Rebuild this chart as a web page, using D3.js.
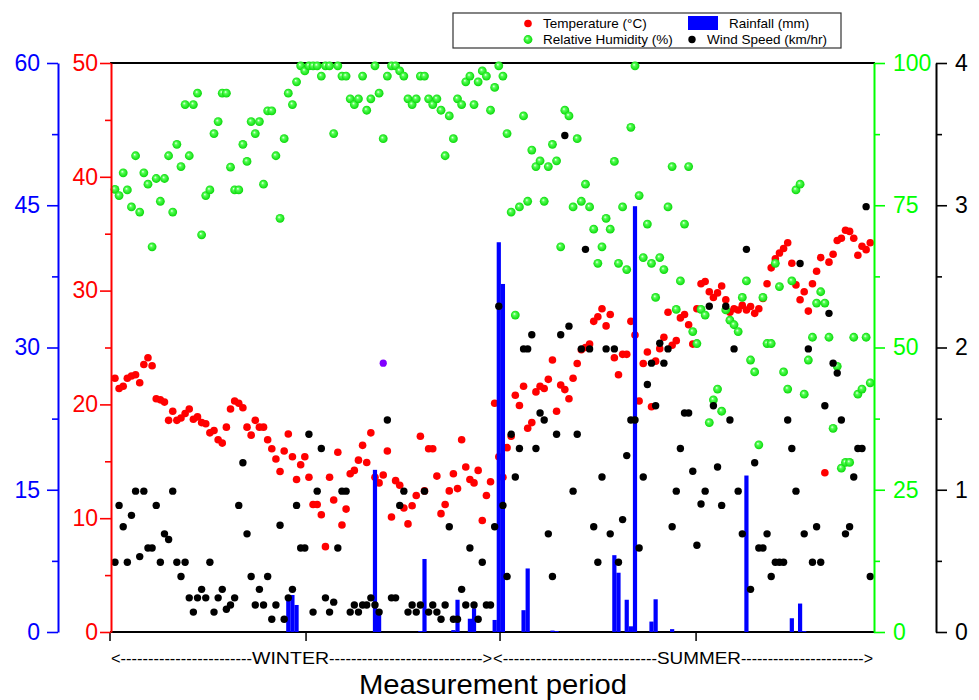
<!DOCTYPE html>
<html><head><meta charset="utf-8">
<script src="https://cdn.jsdelivr.net/npm/d3@7"></script>
<style>body{margin:0;background:#fff;} svg text{font-family:"Liberation Sans",Arial,sans-serif;}</style>
</head><body><svg id="c" width="979" height="700"></svg>
<script>
// ---- data (sample index 1..184) ----
const temperature = [22.3,21.4,21.6,22.3,22.5,22.6,21.9,23.5,24.1,23.4,
 20.5,20.4,20.2,18.6,19.4,18.6,18.8,19.2,19.6,18.7,
 18.9,18.4,18.3,17.5,17.7,16.9,16.6,18.0,19.6,20.3,
 20.1,19.7,18.0,17.3,18.6,18.0,18.0,16.9,16.1,15.2,
 14.1,15.9,17.4,15.4,13.4,14.7,15.4,13.6,11.2,11.2,
 10.3,7.5,13.6,11.6,15.8,9.4,10.8,13.9,14.2,15.1,
 16.4,14.9,17.5,13.6,13.1,13.8,15.9,10.1,13.3,12.9,
 10.9,9.5,11.1,12.0,17.2,12.4,16.1,16.1,13.7,10.4,
 11.2,12.4,13.9,12.6,16.9,14.5,13.4,13.1,14.2,9.8,
 12.0,13.2,20.1,15.4,13.6,16.2,17.2,20.8,19.9,21.6,
 17.9,18.4,21.1,21.6,21.4,22.2,23.9,19.4,21.7,21.3,
 20.5,22.3,23.6,24.8,25.0,25.3,27.3,27.7,28.4,26.9,
 27.9,24.1,22.6,24.4,24.4,27.3,26.1,20.3,23.6,24.6,
 19.8,23.8,24.9,25.9,28.1,25.2,25.6,27.6,27.9,27.0,
 25.3,28.4,30.6,30.8,29.9,29.4,29.8,30.4,29.2,28.1,
 28.4,28.3,28.7,28.3,28.6,28.0,28.4,29.3,30.6,32.0,
 32.8,33.3,33.7,34.2,32.4,30.5,29.2,29.9,28.2,30.6,
 31.7,32.9,14.0,32.5,33.2,34.4,34.6,35.3,35.2,34.6,
 33.1,33.9,33.6,34.2];
const humidity = [77.8,76.7,80.7,77.7,74.7,83.7,73.8,80.7,78.7,67.7,
 79.7,75.7,79.7,83.7,73.8,85.7,81.8,92.7,83.7,92.7,
 94.7,69.8,76.7,77.7,87.6,89.7,94.7,94.7,81.7,77.7,
 77.7,85.7,82.7,89.7,87.6,89.7,78.7,91.6,91.6,83.7,
 72.7,86.7,94.7,92.7,96.7,99.5,98.6,99.5,99.5,99.5,
 97.7,99.5,99.5,87.6,99.5,97.7,97.7,93.7,92.7,93.7,
 97.7,91.7,93.7,99.5,94.7,86.7,97.7,99.5,99.5,98.6,
 97.7,93.7,92.7,93.7,97.7,97.7,93.7,92.7,93.7,91.7,
 83.7,90.7,86.7,93.7,92.7,96.7,97.7,92.7,96.7,98.6,
 97.7,91.7,95.7,99.5,97.7,87.6,73.8,55.7,74.7,90.7,
 75.7,84.7,81.8,82.8,75.7,81.8,85.7,82.8,67.7,91.7,
 90.7,74.7,86.7,75.7,78.7,74.7,70.8,64.8,67.7,72.7,
 70.8,82.7,64.8,74.7,63.7,88.7,99.5,76.7,65.8,71.7,
 64.8,58.8,65.8,63.7,74.7,81.8,56.7,61.7,71.7,81.8,
 52.8,50.7,56.7,55.7,36.8,40.8,42.7,38.8,56.6,54.8,
 54.0,52.8,58.8,61.7,47.8,45.7,32.9,58.8,50.7,50.7,
 64.8,60.7,45.7,42.7,61.7,77.7,78.7,41.8,47.8,51.8,
 57.8,59.8,57.8,51.8,35.8,46.7,28.8,29.8,29.8,51.8,
 41.8,42.7,51.8,43.8];
const windSpeed = [0.49,0.89,0.74,0.49,0.82,0.99,0.53,0.99,0.59,0.59,
 0.89,0.49,0.69,0.65,0.99,0.49,0.39,0.49,0.24,0.14,
 0.24,0.30,0.24,0.49,0.14,0.24,0.30,0.16,0.19,0.24,
 0.89,1.19,0.69,0.39,0.19,0.30,0.19,0.39,0.09,0.19,
 0.75,0.09,0.24,0.30,0.89,0.59,0.59,1.39,0.14,0.99,
 1.29,0.24,0.14,0.21,0.59,0.99,0.99,0.14,0.19,0.14,
 0.19,0.19,0.24,0.19,0.14,null,1.49,0.24,0.24,0.89,
 0.99,0.14,0.19,0.14,0.19,0.99,0.14,0.19,0.14,0.09,
 0.19,0.74,0.09,0.09,0.30,0.19,0.59,0.19,0.09,0.49,
 0.19,0.19,0.74,2.29,0.89,0.39,1.39,1.09,1.29,1.99,
 1.99,2.09,1.29,1.54,1.49,0.69,0.39,1.39,2.09,3.49,
 2.15,0.99,1.39,1.99,2.69,1.99,0.74,0.49,1.09,1.99,
 0.69,1.99,0.49,0.79,1.24,1.49,1.49,0.59,1.09,1.74,
 1.89,1.59,2.03,1.89,1.99,0.74,0.99,1.29,1.54,1.54,
 1.13,0.61,0.90,0.99,2.29,1.59,1.16,0.89,2.29,1.49,
 1.99,0.99,0.69,2.69,0.30,1.19,0.59,0.59,0.69,0.39,
 0.49,0.49,0.49,1.49,1.29,0.99,2.59,0.69,1.99,0.49,
 0.74,0.49,1.59,2.24,1.89,1.82,1.49,0.69,0.74,1.09,
 1.29,1.29,2.99,0.39];
const rainIndex = [43,44,45,64,65,75,76,83,84,87,88,93,94,95,100,101,107,108,122,123,125,126,127,131,132,136,154,165,167,168];
const rainfall  = [3.9,3.9,2.85,17.1,2.0,0.1,7.7,0.2,3.4,1.4,2.5,1.27,41.1,36.7,2.3,6.7,0.15,0.1,8.1,6.25,3.4,0.6,44.9,1.1,3.45,0.3,16.5,1.45,3.0,0.1];
const oddIndex = [66];
const oddWind  = [1.89];

const xDomain = [-0.2, 185.15];
const xTicks = [-0.2, 47.3, 94.3, 141.8];
const rainTicks = [0,15,30,45,60], rainMinor = [7.5,22.5,37.5,52.5];
const tempTicks = [0,10,20,30,40,50], tempMinor = [5,15,25,35,45];
const rhTicks = [0,25,50,75,100], rhMinor = [12.5,37.5,62.5,87.5];
const windTicks = [0,1,2,3,4], windMinor = [0.5,1.5,2.5,3.5];
const seasons = ["WINTER","SUMMER"];

// ---- layout ----
const L=110, R=875, T=63, B=632;
const svg = d3.select("#c");
const x = d3.scaleLinear().domain(xDomain).range([L,R]);
const yT = d3.scaleLinear().domain([0,50]).range([B,T]);
const yRH = d3.scaleLinear().domain([0,100]).range([B,T]);
const yW = d3.scaleLinear().domain([0,4]).range([B,T]);
const yR = d3.scaleLinear().domain([0,60]).range([B,T]);
const idx = d3.range(1, temperature.length+1);

const defs = svg.append("defs");
const gr = defs.append("radialGradient").attr("id","gsph").attr("cx","50%").attr("cy","50%").attr("r","55%").attr("fx","38%").attr("fy","35%");
gr.append("stop").attr("offset","0%").attr("stop-color","#f4fff4");
gr.append("stop").attr("offset","30%").attr("stop-color","#55ff55");
gr.append("stop").attr("offset","100%").attr("stop-color","#00d400");

// frame lines
svg.append("line").attr("x1",L).attr("x2",R).attr("y1",T).attr("y2",T).attr("stroke","#000").attr("stroke-width",2);
svg.append("line").attr("x1",L).attr("x2",R).attr("y1",B).attr("y2",B).attr("stroke","#000").attr("stroke-width",2);
svg.append("g").selectAll("line").data(xTicks).join("line")
  .attr("x1",d=>x(d)).attr("x2",d=>x(d)).attr("y1",B).attr("y2",B+9).attr("stroke","#000").attr("stroke-width",1.5);

// temperature
svg.append("g").selectAll("circle").data(idx.filter(i=>temperature[i-1]!=null)).join("circle")
  .attr("cx",i=>x(i)).attr("cy",i=>yT(temperature[i-1])).attr("r",3.8).attr("fill","#ff0000");
// rainfall
svg.append("g").selectAll("rect").data(rainIndex.map((d,k)=>({i:d,v:rainfall[k]}))).join("rect")
  .attr("x",d=>x(d.i)-2.1).attr("width",4.2).attr("y",d=>yR(d.v)).attr("height",d=>B-yR(d.v)).attr("fill","#0000ff");
// humidity
svg.append("g").selectAll("circle").data(idx.filter(i=>humidity[i-1]!=null)).join("circle")
  .attr("cx",i=>x(i)).attr("cy",i=>yRH(humidity[i-1])).attr("r",4.4).attr("fill","url(#gsph)");
// wind
svg.append("g").selectAll("circle").data(idx.filter(i=>windSpeed[i-1]!=null)).join("circle")
  .attr("cx",i=>x(i)).attr("cy",i=>yW(windSpeed[i-1])).attr("r",3.7).attr("fill","#000");
svg.append("g").selectAll("circle").data(oddIndex.map((d,k)=>({i:d,v:oddWind[k]}))).join("circle")
  .attr("cx",d=>x(d.i)).attr("cy",d=>yW(d.v)).attr("r",3.6).attr("fill","#8000ff");

// axes
const fmt = d3.format("~g");
function yAxis(scale, gen, xpos, color, major, minor, pad){
  const g = svg.append("g").attr("transform",`translate(${xpos},0)`)
    .attr("font-family",'"Liberation Sans",Arial,sans-serif');
  g.call(gen(scale).tickValues(major).tickSize(11).tickSizeOuter(0).tickPadding(pad).tickFormat(fmt));
  const m = g.append("g").call(gen(scale).tickValues(minor).tickSize(6).tickSizeOuter(0).tickFormat(""));
  m.select("path.domain").remove();
  g.select("path.domain").attr("stroke",color).attr("stroke-width",2);
  g.selectAll(".tick line").attr("stroke",color).attr("stroke-width",1.6);
  g.selectAll(".tick text").attr("fill",color).attr("font-size",23);
}
yAxis(yR, d3.axisLeft, 58, "#0000ff", rainTicks, rainMinor, 7);
yAxis(yT, d3.axisLeft, 111, "#ff0000", tempTicks, tempMinor, 2);
yAxis(yRH, d3.axisRight, 874, "#00ff00", rhTicks, rhMinor, 8);
yAxis(yW, d3.axisRight, 936, "#000000", windTicks, windMinor, 8);

// season labels
function seg(str, x0, x1, y){
  svg.append("text").attr("x",x0).attr("y",y).attr("font-size",17).attr("textLength",x1-x0)
    .attr("lengthAdjust","spacingAndGlyphs").text(str);
}
const yS = 664;
seg("<"+"-".repeat(24), 111, 252, yS); seg(seasons[0], 252, 329, yS); seg("-".repeat(28)+">", 329, 492, yS);
seg("<"+"-".repeat(28), 493, 657, yS); seg(seasons[1], 657, 741, yS); seg("-".repeat(23)+">", 741, 873, yS);

svg.append("text").attr("x",493).attr("y",694).attr("text-anchor","middle").attr("font-size",28)
  .attr("textLength",268).attr("lengthAdjust","spacingAndGlyphs").text("Measurement period");

// legend
const lg = svg.append("g");
lg.append("rect").attr("x",453).attr("y",13).attr("width",388).attr("height",35).attr("fill","#fff").attr("stroke","#333").attr("stroke-width",1.2);
lg.append("circle").attr("cx",528).attr("cy",23.5).attr("r",3.8).attr("fill","#ff0000");
lg.append("text").attr("x",543).attr("y",28).attr("font-size",13.5).text("Temperature (°C)");
lg.append("circle").attr("cx",528).attr("cy",39.5).attr("r",4.4).attr("fill","url(#gsph)");
lg.append("text").attr("x",543).attr("y",44).attr("font-size",13.5).text("Relative Humidity (%)");
lg.append("rect").attr("x",688).attr("y",16).attr("width",30).attr("height",14).attr("fill","#0000ff");
lg.append("text").attr("x",729).attr("y",28).attr("font-size",13.5).text("Rainfall (mm)");
lg.append("circle").attr("cx",692).attr("cy",39.5).attr("r",3.7).attr("fill","#000");
lg.append("text").attr("x",707).attr("y",44).attr("font-size",13.5).text("Wind Speed (km/hr)");
</script></body></html>
